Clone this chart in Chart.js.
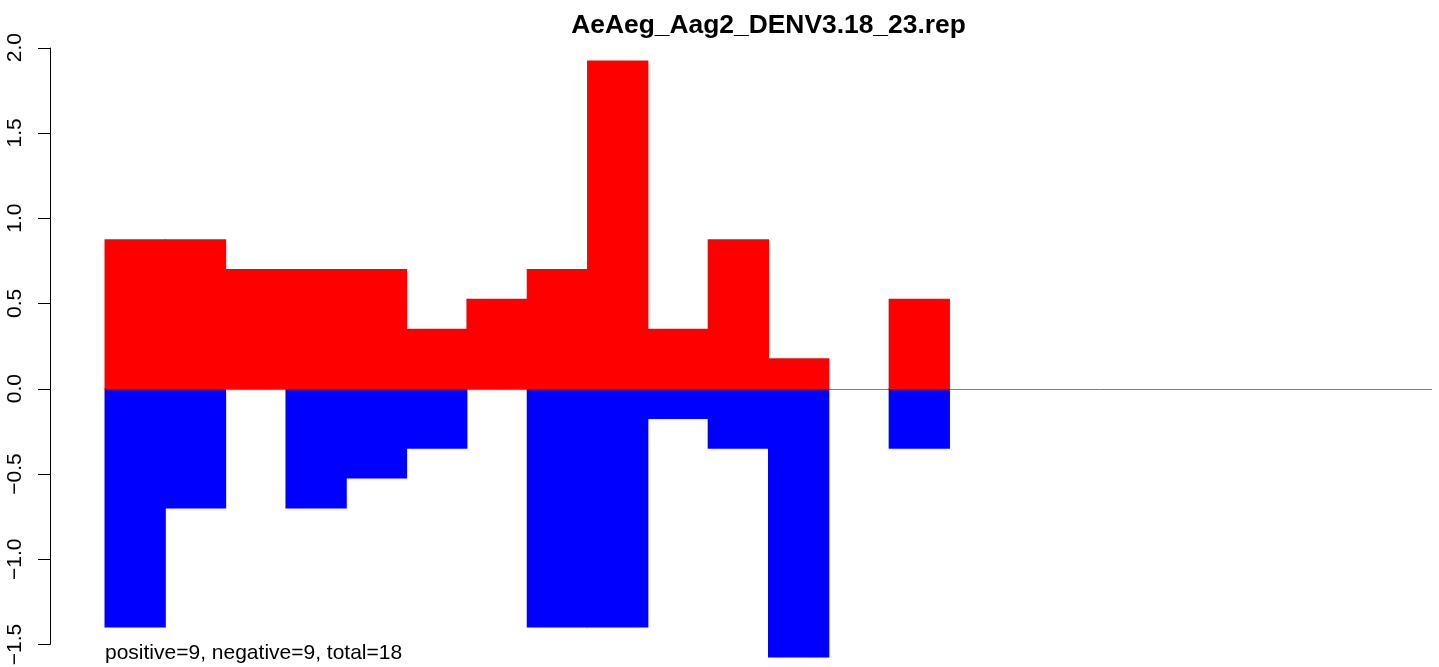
<!DOCTYPE html>
<html>
<head>
<meta charset="utf-8">
<script src="https://cdn.jsdelivr.net/npm/chart.js@4/dist/chart.umd.min.js"></script>
<style>
  html, body { margin: 0; padding: 0; background: #fff; }
  #wrap { width: 1439px; height: 667px; }
</style>
</head>
<body>
<div id="wrap"><canvas id="chart"></canvas></div>
<script>
const title = 'AeAeg_Aag2_DENV3.18_23.rep';
const note = 'positive=9, negative=9, total=18';
const binCount = 22;
const positiveVals = [0.874, 0.874, 0.699, 0.699, 0.699, 0.349, 0.524, 0.699, 1.922, 0.349, 0.874, 0.175, 0, 0.524, 0, 0, 0, 0, 0, 0, 0, 0];
const negativeVals = [-1.398, -0.699, 0, -0.699, -0.524, -0.349, 0, -1.398, -1.398, -0.175, -0.349, -1.573, 0, -0.349, 0, 0, 0, 0, 0, 0, 0, 0];
const yTicks = [-1.5, -1.0, -0.5, 0.0, 0.5, 1.0, 1.5, 2.0];

// R style axis, zero line and texts
const rDecor = {
    id: 'rDecor',
    beforeDatasetsDraw(chart) {
        const ctx = chart.ctx, x = chart.scales.x, y = chart.scales.y;
        ctx.save();
        ctx.strokeStyle = '#808080';
        ctx.lineWidth = 1;
        ctx.beginPath();
        const y0 = Math.round(y.getPixelForValue(0)) + 0.5;
        ctx.moveTo(x.getPixelForValue(0), y0);
        ctx.lineTo(x.getPixelForValue(binCount), y0);
        ctx.stroke();
        ctx.restore();
    },
    afterDraw(chart) {
        const ctx = chart.ctx, x = chart.scales.x, y = chart.scales.y;
        ctx.save();
        // y axis
        ctx.strokeStyle = '#000';
        ctx.lineWidth = 1;
        const ax = 50.5;
        ctx.beginPath();
        ctx.moveTo(ax, y.getPixelForValue(yTicks[0]));
        ctx.lineTo(ax, y.getPixelForValue(yTicks[yTicks.length - 1]));
        yTicks.forEach(v => {
            const py = Math.round(y.getPixelForValue(v)) + 0.5;
            ctx.moveTo(ax, py);
            ctx.lineTo(38, py);
        });
        ctx.stroke();
        ctx.fillStyle = '#000';
        ctx.font = '21px "Liberation Sans", Arial, sans-serif';
        ctx.textAlign = 'center';
        ctx.textBaseline = 'alphabetic';
        yTicks.forEach(v => {
            ctx.save();
            ctx.translate(21, y.getPixelForValue(v));
            ctx.rotate(-Math.PI / 2);
            ctx.fillText(v.toFixed(1).replace('-', '\u2212'), 0, 0);
            ctx.restore();
        });
        // title
        ctx.font = 'bold 26.4px "Liberation Sans", Arial, sans-serif';
        ctx.fillText(title, (x.getPixelForValue(0) + x.getPixelForValue(binCount)) / 2, 33);
        // note
        ctx.font = '21px "Liberation Sans", Arial, sans-serif';
        ctx.textAlign = 'left';
        ctx.fillText(note, x.getPixelForValue(0), 659);
        ctx.restore();
    }
};

// empty bins get no bar at all (avoid the inflated hairline)
const pos = positiveVals.map((v, i) => ({ x: i + 0.5, y: v === 0 ? null : v }));
const neg = negativeVals.map((v, i) => ({ x: i + 0.5, y: v === 0 ? null : v }));

new Chart(document.getElementById('chart').getContext('2d'), {
    type: 'bar',
    data: {
        datasets: [{
            label: 'positive',
            data: pos,
            backgroundColor: '#FF0000',
            borderWidth: 0,
            inflateAmount: 0.5,
            barPercentage: 1,
            categoryPercentage: 1
        }, {
            label: 'negative',
            data: neg,
            backgroundColor: '#0000FF',
            borderWidth: 0,
            inflateAmount: 0.5,
            barPercentage: 1,
            categoryPercentage: 1
        }]
    },
    options: {
        responsive: true,
        maintainAspectRatio: false,
        animation: false,
        layout: { padding: { left: 50, right: 7, top: 34, bottom: 0 } },
        plugins: { legend: { display: false }, tooltip: { enabled: false }, title: { display: false } },
        scales: {
            x: {
                type: 'linear',
                stacked: true,
                display: false,
                offset: false,
                min: -0.912,
                max: binCount
            },
            y: {
                stacked: true,
                display: false,
                min: -1.632,
                max: 2.08,
                afterBuildTicks: s => { s.ticks = yTicks.map(v => ({ value: v })); }
            }
        }
    },
    plugins: [rDecor]
});
</script>
</body>
</html>
